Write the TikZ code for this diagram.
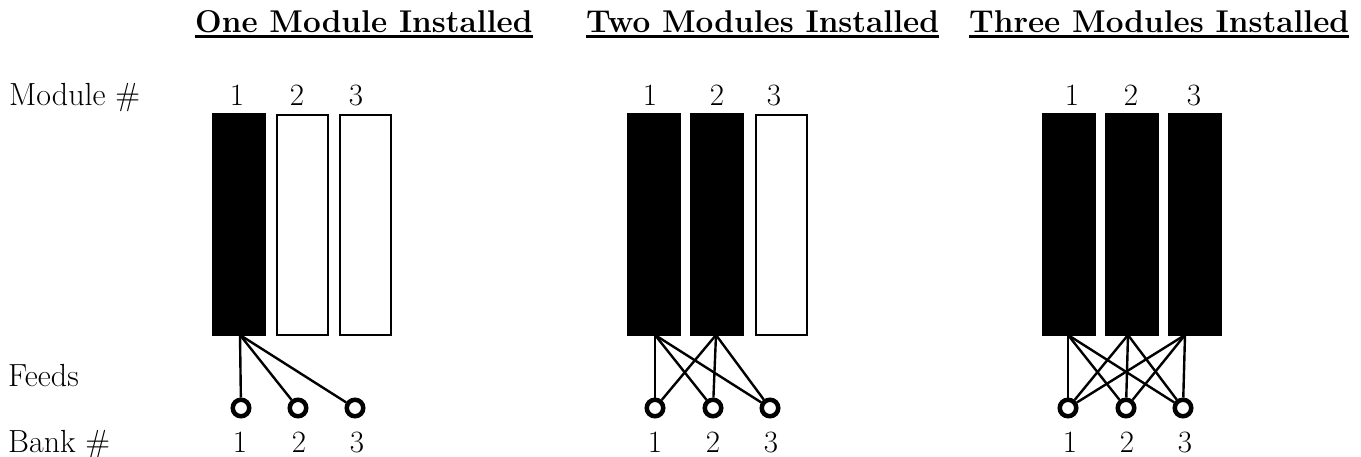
\documentclass[tikz,border=0pt]{standalone}
\usepackage{fontspec}
\begin{document}
\begin{tikzpicture}[x=1pt,y=-1pt,
  lbl/.style={anchor=base west,inner sep=0pt,font=\fontsize{32}{38}\selectfont\addfontfeatures{FakeBold=0.8}},
  ttl/.style={anchor=base west,inner sep=0pt,font=\fontsize{31.5}{38}\selectfont\bfseries\addfontfeatures{FakeBold=1.6}},
  num/.style={anchor=base,inner sep=0pt,font=\fontsize{31}{38}\selectfont\addfontfeatures{FakeBold=0.8}},
  uline/.style={line width=2.6pt},
  modon/.style={draw=black,fill=black,line width=1pt,minimum width=53pt,minimum height=222pt,inner sep=0pt,anchor=north west},
  modoff/.style={draw=black,fill=white,line width=2.4pt,minimum width=50.6pt,minimum height=219.6pt,inner sep=0pt,anchor=north west},
  feed/.style={circle,draw=black,fill=white,line width=4.5pt,minimum size=16.5pt,inner sep=0pt},
  wire/.style={line width=2.4pt}]
\useasboundingbox (0,0) rectangle (1361,457);

% titles
\node[ttl] (t1) at (195,33) {One Module Installed};
\node[ttl] (t2) at (586,33) {Two Modules Installed};
\node[ttl] (t3) at (969,33) {Three Modules Installed};
\foreach \t in {t1,t2,t3}
  \draw[uline] ([yshift=-3.5pt]\t.base west) -- ([yshift=-3.5pt]\t.base east);

% row labels
\node[lbl] (lmod) at (9,106) {Module \#};
\node[lbl] (lfeed) at (8,386) {Feeds};
\node[lbl] (lbank) at (8,452) {Bank \#};

% ---------- panel 1 ----------
\node[num] (p1n1) at (237,106) {1};
\node[num] (p1n2) at (297,106) {2};
\node[num] (p1n3) at (356,106) {3};
\node[modon]  (p1m1) at (212,113) {};
\node[modoff] (p1m2) at (276,114) {};
\node[modoff] (p1m3) at (339,114) {};
\node[feed] (p1f1) at (241,408) {};
\node[feed] (p1f2) at (298,408) {};
\node[feed] (p1f3) at (355,408) {};
\coordinate (p1o1) at (240,335);
\foreach \j in {1,2,3} \draw[wire] (p1o1) -- (p1f\j);
\node[num] (p1b1) at (240,452) {1};
\node[num] (p1b2) at (299,452) {2};
\node[num] (p1b3) at (357,452) {3};

% ---------- panel 2 ----------
\node[num] (p2n1) at (650,106) {1};
\node[num] (p2n2) at (717,106) {2};
\node[num] (p2n3) at (774,106) {3};
\node[modon]  (p2m1) at (627,113) {};
\node[modon]  (p2m2) at (690,113) {};
\node[modoff] (p2m3) at (755,114) {};
\node[feed] (p2f1) at (655,408) {};
\node[feed] (p2f2) at (713,408) {};
\node[feed] (p2f3) at (770,408) {};
\coordinate (p2o1) at (655,335);
\coordinate (p2o2) at (716,335);
\foreach \i in {1,2} \foreach \j in {1,2,3} \draw[wire] (p2o\i) -- (p2f\j);
\node[num] (p2b1) at (655,452) {1};
\node[num] (p2b2) at (713,452) {2};
\node[num] (p2b3) at (771,452) {3};

% ---------- panel 3 ----------
\node[num] (p3n1) at (1072,106) {1};
\node[num] (p3n2) at (1131,106) {2};
\node[num] (p3n3) at (1194,106) {3};
\node[modon] (p3m1) at (1042,113) {};
\node[modon] (p3m2) at (1105,113) {};
\node[modon] (p3m3) at (1168,113) {};
\node[feed] (p3f1) at (1068,408) {};
\node[feed] (p3f2) at (1126,408) {};
\node[feed] (p3f3) at (1183,408) {};
\coordinate (p3o1) at (1068,335);
\coordinate (p3o2) at (1128,335);
\coordinate (p3o3) at (1185,335);
\foreach \i in {1,2,3} \foreach \j in {1,2,3} \draw[wire] (p3o\i) -- (p3f\j);
\node[num] (p3b1) at (1070,452) {1};
\node[num] (p3b2) at (1127,452) {2};
\node[num] (p3b3) at (1185,452) {3};
\end{tikzpicture}
\end{document}
